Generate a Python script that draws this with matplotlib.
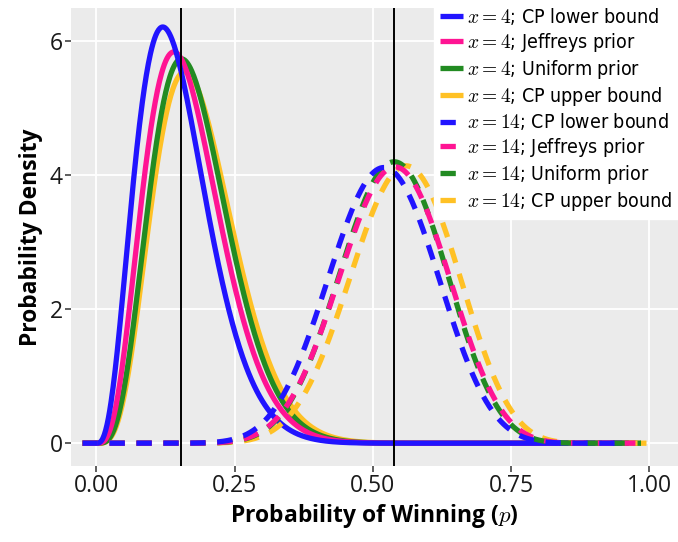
import math

import matplotlib
matplotlib.use('Agg')
import matplotlib.pyplot as plt
import numpy as np
from matplotlib import font_manager

# ---------------------------------------------------------------------------
# Data: beta posteriors for x successes out of n trials
# ---------------------------------------------------------------------------

n_trials  = 26
successes = [4, 14]
methods   = ['CP lower bound', 'Jeffreys prior', 'Uniform prior', 'CP upper bound']
a_offset  = [0.0, 0.5, 1.0, 1.0]     # alpha = x + a_offset
b_offset  = [1.0, 0.5, 1.0, 0.0]     # beta  = n - x + b_offset
p_start   = -0.025
p_end     = [0.955, 0.975, 0.985, 0.995]

colors     = ['#2114ff', '#ff1493', '#228b22', '#ffc125']
linestyles = ['-', (0, (2.9, 2.2))]


def beta_pdf(p, a, b):
    out = np.zeros_like(p)
    inside = (p > 0) & (p < 1)
    q = p[inside]
    log_b = math.lgamma(a) + math.lgamma(b) - math.lgamma(a + b)
    out[inside] = np.exp((a - 1) * np.log(q) + (b - 1) * np.log(1 - q) - log_b)
    return out


# pick a condensed face for the legend if one is installed
legend_prop = {'family': 'Roboto', 'size': 12.8}
for f in font_manager.fontManager.ttflist:
    fn = f.fname.lower()
    if ('condensed' in fn or 'narrow' in fn) and 'bold' not in fn \
            and 'oblique' not in fn and 'italic' not in fn:
        legend_prop = {'fname': f.fname, 'size': 14}
        break

plt.rcParams['mathtext.fontset'] = 'cm'
base_font = 'Open Sans'

fig = plt.figure(figsize=(6.78, 5.42), dpi=100)
ax = fig.add_axes([71 / 678, 76 / 542, 607 / 678, 458 / 542])
ax.set_facecolor('#ebebeb')
for s in ax.spines.values():
    s.set_visible(False)

handles = []
for gi, x in enumerate(successes):
    for mi in reversed(range(len(methods))):
        a = x + a_offset[mi]
        b = n_trials - x + b_offset[mi]
        p = np.linspace(p_start, p_end[mi], 800)
        line, = ax.plot(p, beta_pdf(p, a, b), color=colors[mi],
                        linestyle=linestyles[gi], lw=3.8,
                        solid_capstyle='butt', dash_capstyle='butt',
                        zorder=3 + gi * 0.1 + (3 - mi) * 0.01)
        line.set_label(f'$x = {x}$; {methods[mi]}')
        handles.append((gi, mi, line))

# observed proportions
for x in successes:
    ax.axvline(x / n_trials, color='black', lw=1.4, zorder=4)

ax.set_xlim(-0.046, 1.052)
ax.set_ylim(-0.34, 6.49)
ax.set_xticks([0, 0.25, 0.5, 0.75, 1.0])
ax.set_xticklabels(['0.00', '0.25', '0.50', '0.75', '1.00'])
ax.set_yticks([0, 2, 4, 6])
ax.grid(True, color='white', lw=1.3, zorder=0)
ax.set_axisbelow(True)
ax.tick_params(length=4, width=1.1, color='#333333', labelsize=16.5,
               labelcolor='#1a1a1a', pad=2)
for lab in ax.get_xticklabels() + ax.get_yticklabels():
    lab.set_family(base_font)

ax.set_xlabel('Probability of Winning ($p$)', fontsize=16.5, fontweight='bold',
              family=base_font, labelpad=3)
ax.set_ylabel('Probability Density', fontsize=16.5, fontweight='bold',
              family=base_font, labelpad=5)

handles.sort(key=lambda h: (h[0], h[1]))
leg = ax.legend(handles=[h[2] for h in handles], loc='upper right',
                bbox_to_anchor=(1.0, 1.0 + 8 / 458), frameon=True,
                fancybox=False, framealpha=1, edgecolor='white',
                facecolor='white', handlelength=1.2, handletextpad=0.2,
                labelspacing=0.2, borderpad=0.3, borderaxespad=0,
                prop=legend_prop)
leg.set_zorder(10)

fig.savefig('out.png', dpi=100)
